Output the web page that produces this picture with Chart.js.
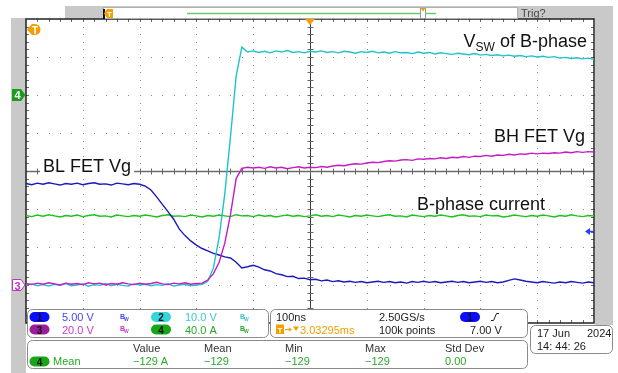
<!DOCTYPE html>
<html>
<head>
<meta charset="utf-8">
<script src="https://cdn.jsdelivr.net/npm/chart.js@4/dist/chart.umd.min.js"></script>
<style>
  html, body { margin: 0; padding: 0; background: #fff; }
  canvas { display: block; }
</style>
</head>
<body>
<canvas id="scope" width="618" height="373"></canvas>
<script>
// Time base: 100 ns/div, trigger at centre (ns)
const timeNs = [
  -500, -490, -480, -470, -460, -450, -440, -430, -420, -410,
  -400, -390, -380, -370, -360, -350, -340, -330, -320, -310,
  -300, -290, -280, -270, -260, -250, -240, -230, -220, -210,
  -200, -190, -180, -170, -160, -150, -140, -130, -120, -110,
  -100, -90, -80, -70, -60, -50, -40, -30, -20, -10,
  0, 10, 20, 30, 40, 50, 60, 70, 80, 90,
  100, 110, 120, 130, 140, 150, 160, 170, 180, 190,
  200, 210, 220, 230, 240, 250, 260, 270, 280, 290,
  300, 310, 320, 330, 340, 350, 360, 370, 380, 390,
  400, 410, 420, 430, 440, 450, 460, 470, 480, 490,
  500
];

// Trace values, in vertical divisions from centre
// Ch1 (blue) - BL FET Vg
const blFetVg = [
  -0.33, -0.36, -0.32, -0.35, -0.31, -0.34, -0.37, -0.33, -0.35, -0.32,
  -0.36, -0.33, -0.31, -0.35, -0.34, -0.37, -0.32, -0.34, -0.36, -0.33,
  -0.35, -0.40, -0.50, -0.68, -0.88, -1.07, -1.27, -1.53, -1.70, -1.84,
  -1.95, -2.04, -2.10, -2.17, -2.21, -2.26, -2.29, -2.40, -2.55, -2.52,
  -2.48, -2.53, -2.60, -2.63, -2.70, -2.73, -2.78, -2.77, -2.83, -2.82,
  -2.86, -2.85, -2.89, -2.87, -2.91, -2.89, -2.92, -2.90, -2.93, -2.91,
  -2.94, -2.92, -2.90, -2.93, -2.91, -2.94, -2.92, -2.95, -2.91, -2.93,
  -2.90, -2.93, -2.91, -2.94, -2.92, -2.90, -2.93, -2.91, -2.94, -2.92,
  -2.90, -2.93, -2.91, -2.94, -2.92, -2.88, -2.84, -2.87, -2.90, -2.92,
  -2.94, -2.91, -2.93, -2.95, -2.92, -2.94, -2.91, -2.93, -2.95, -2.92,
  -2.94
];
// Ch2 (cyan) - Vsw of B-phase
const vswB = [
  -3.00, -2.97, -3.02, -2.99, -3.03, -2.98, -3.01, -2.96, -3.02, -3.00,
  -2.97, -3.03, -2.99, -3.01, -2.96, -3.02, -2.98, -3.01, -3.03, -2.97,
  -3.00, -2.98, -3.02, -2.99, -3.01, -2.97, -3.03, -3.00, -2.98, -3.02,
  -3.00, -2.98, -2.90, -2.55, -1.75, -0.60, 0.90, 2.50, 3.26, 3.13,
  3.16, 3.12, 3.15, 3.11, 3.16, 3.13, 3.17, 3.12, 3.14, 3.11,
  3.15, 3.13, 3.16, 3.12, 3.14, 3.11, 3.15, 3.13, 3.10, 3.14,
  3.12, 3.15, 3.11, 3.13, 3.10, 3.14, 3.11, 3.12, 3.09, 3.13,
  3.10, 3.12, 3.08, 3.11, 3.09, 3.07, 3.10, 3.08, 3.06, 3.09,
  3.05, 3.07, 3.04, 3.06, 3.03, 3.05, 3.02, 3.04, 3.01, 3.03,
  3.00, 3.02, 2.99, 3.01, 2.97, 2.99, 2.96, 2.98, 2.95, 2.97,
  2.94
];
// Ch3 (magenta) - BH FET Vg
const bhFetVg = [
  -2.96, -2.99, -2.95, -2.98, -2.94, -2.97, -3.00, -2.95, -2.98, -2.96,
  -2.99, -2.94, -2.97, -2.95, -3.00, -2.96, -2.98, -2.94, -2.97, -2.99,
  -2.95, -2.98, -2.96, -2.93, -2.97, -2.99, -2.95, -2.97, -2.94, -2.98,
  -2.96, -2.95, -2.87, -2.70, -2.40, -1.90, -1.15, -0.20, 0.07, 0.10,
  0.08, 0.10, 0.07, 0.11, 0.08, 0.10, 0.06, 0.09, 0.11, 0.08,
  0.10, 0.09, 0.12, 0.10, 0.13, 0.15, 0.14, 0.17, 0.19, 0.18,
  0.21, 0.23, 0.22, 0.25, 0.27, 0.26, 0.29, 0.30, 0.28, 0.32,
  0.31, 0.33, 0.32, 0.35, 0.33, 0.36, 0.35, 0.38, 0.36, 0.39,
  0.38, 0.41, 0.39, 0.42, 0.41, 0.44, 0.42, 0.45, 0.44, 0.47,
  0.45, 0.47, 0.46, 0.48, 0.47, 0.50, 0.48, 0.51, 0.49, 0.51,
  0.50
];
// Ch4 (green) - B-phase current
const bCurrent = [
  -1.17, -1.20, -1.16, -1.19, -1.15, -1.18, -1.21, -1.17, -1.19, -1.16,
  -1.20, -1.17, -1.15, -1.19, -1.18, -1.21, -1.16, -1.18, -1.20, -1.17,
  -1.19, -1.16, -1.18, -1.21, -1.17, -1.15, -1.19, -1.18, -1.20, -1.16,
  -1.18, -1.21, -1.17, -1.19, -1.16, -1.18, -1.20, -1.15, -1.18, -1.17,
  -1.20, -1.16, -1.19, -1.17, -1.21, -1.18, -1.16, -1.19, -1.17, -1.20,
  -1.18, -1.15, -1.19, -1.17, -1.20, -1.16, -1.18, -1.21, -1.17, -1.19,
  -1.16, -1.18, -1.20, -1.17, -1.15, -1.19, -1.18, -1.21, -1.16, -1.18,
  -1.20, -1.17, -1.19, -1.16, -1.18, -1.21, -1.17, -1.15, -1.19, -1.18,
  -1.20, -1.16, -1.18, -1.17, -1.21, -1.19, -1.16, -1.18, -1.20, -1.17,
  -1.19, -1.16, -1.18, -1.21, -1.17, -1.19, -1.15, -1.18, -1.20, -1.17,
  -1.18
];

const FONT = "'Liberation Sans', Arial, sans-serif";
const ORANGE = '#f2a000';

function rrect(ctx, x, y, w, h, r) {
  ctx.beginPath();
  ctx.moveTo(x + r, y);
  ctx.arcTo(x + w, y, x + w, y + h, r);
  ctx.arcTo(x + w, y + h, x, y + h, r);
  ctx.arcTo(x, y + h, x, y, r);
  ctx.arcTo(x, y, x + w, y, r);
  ctx.closePath();
}

function seg(ctx, x1, y1, x2, y2) {
  ctx.beginPath();
  ctx.moveTo(x1, y1);
  ctx.lineTo(x2, y2);
  ctx.stroke();
}

function txt(ctx, s, x, y, color, size, weight) {
  ctx.font = `${weight || ''} ${size}px ${FONT}`;
  ctx.fillStyle = color;
  ctx.fillText(s, x, y);
}

function pill(ctx, x, y, fill, label) {
  rrect(ctx, x, y, 20, 10, 5);
  ctx.fillStyle = fill;
  ctx.fill();
  ctx.textAlign = 'center';
  txt(ctx, label, x + 10, y + 9, '#111', 10, 'bold');
  ctx.textAlign = 'left';
}

function bw(ctx, x, y, color) {
  txt(ctx, 'B', x, y, color, 7, 'bold');
  txt(ctx, 'W', x + 4, y + 2, color, 5, 'bold');
}

// Label with a white box behind it (covers the graticule)
function label(ctx, parts, x, base) {
  let w = 0;
  parts.forEach(p => { ctx.font = `${p.size}px ${FONT}`; w += ctx.measureText(p.s).width; });
  ctx.fillStyle = '#fff';
  ctx.fillRect(x - 3, base - 15, w + 6, 19);
  let cx = x;
  parts.forEach(p => {
    txt(ctx, p.s, cx, base + (p.dy || 0), '#111', p.size);
    ctx.font = `${p.size}px ${FONT}`;
    cx += ctx.measureText(p.s).width;
  });
}

const screenPlugin = {
  id: 'screen',
  beforeDatasetsDraw(chart) {
    const { ctx, chartArea: a, scales: { x, y } } = chart;
    ctx.save();
    // grey frame
    ctx.fillStyle = '#c9c9c9';
    ctx.fillRect(11, 18, 15, 355);
    ctx.fillRect(595, 18, 18, 307);
    ctx.fillRect(65, 6, 548, 13);

    // dotted graticule
    ctx.fillStyle = '#8a8a8a';
    for (let k = -4; k <= 4; k++) {
      if (k === 0) continue;
      const px = Math.round(x.getPixelForValue(k * 100));
      for (let j = 0; j <= 40; j++) {
        ctx.fillRect(px, Math.round(y.getPixelForValue(-4 + j * 0.2)), 1, 1);
      }
    }
    for (let k = -3; k <= 3; k++) {
      if (k === 0) continue;
      const py = Math.round(y.getPixelForValue(k));
      for (let j = 0; j <= 50; j++) {
        ctx.fillRect(Math.round(x.getPixelForValue(-500 + j * 20)), py, 1, 1);
      }
    }

    // centre cross with minor ticks
    const cx = Math.round(x.getPixelForValue(0)) + 0.5;
    const cy = Math.round(y.getPixelForValue(0)) + 0.5;
    ctx.strokeStyle = '#6c6c6c';
    ctx.lineWidth = 1.6;
    seg(ctx, a.left, cy, a.right, cy);
    ctx.strokeStyle = '#3a3a3a';
    ctx.lineWidth = 1;
    seg(ctx, cx, a.top, cx, a.bottom);
    ctx.strokeStyle = '#666';
    for (let j = 1; j < 50; j++) {
      const px = Math.round(x.getPixelForValue(-500 + j * 20)) + 0.5;
      seg(ctx, px, cy - 3, px, cy + 3);
      seg(ctx, px, a.top, px, a.top + 3);
      seg(ctx, px, a.bottom - 3, px, a.bottom);
    }
    for (let j = 1; j < 40; j++) {
      const py = Math.round(y.getPixelForValue(-4 + j * 0.2)) + 0.5;
      seg(ctx, cx - 3, py, cx + 3, py);
      seg(ctx, a.left, py, a.left + 3, py);
      seg(ctx, a.right - 3, py, a.right, py);
    }
    // border
    ctx.strokeStyle = '#222';
    ctx.lineWidth = 1.5;
    ctx.strokeRect(a.left, a.top, a.right - a.left, a.bottom - a.top);

    // trace annotations
    ctx.textBaseline = 'alphabetic';
    ctx.font = `18px ${FONT}`;
    const vswParts = [
      { s: 'V', size: 18 },
      { s: 'SW', size: 12, dy: 4 },
      { s: ' of B-phase', size: 18 }
    ];
    let vw = 0;
    vswParts.forEach(p => { ctx.font = `${p.size}px ${FONT}`; vw += ctx.measureText(p.s).width; });
    label(ctx, vswParts, 587 - vw, 47);
    label(ctx, [{ s: 'BH FET Vg', size: 18 }], 494, 142);
    label(ctx, [{ s: 'BL FET Vg', size: 18 }], 43, 172);
    label(ctx, [{ s: 'B-phase current', size: 18 }], 417, 210);
    ctx.restore();
  },
  afterDatasetsDraw(chart) {
    const { ctx, chartArea: a, scales: { x, y } } = chart;
    ctx.save();
    ctx.textBaseline = 'alphabetic';

    // trigger position arrow (top) and trigger level arrow (right)
    const tx = x.getPixelForValue(0);
    ctx.fillStyle = ORANGE;
    ctx.beginPath();
    ctx.moveTo(tx - 5, a.top); ctx.lineTo(tx + 5, a.top); ctx.lineTo(tx, a.top + 6);
    ctx.closePath(); ctx.fill();
    ctx.fillStyle = '#2a3cff';
    ctx.strokeStyle = '#2a3cff';
    ctx.lineWidth = 1.5;
    seg(ctx, 589, 231.5, 594, 231.5);
    ctx.beginPath();
    ctx.moveTo(585, 231.5); ctx.lineTo(590, 228); ctx.lineTo(590, 235);
    ctx.closePath(); ctx.fill();

    // time reference marker (orange T)
    ctx.fillStyle = ORANGE;
    ctx.beginPath();
    ctx.moveTo(27, 29.5); ctx.lineTo(32, 24); ctx.lineTo(36, 24);
    ctx.arc(35, 29.5, 5.5, -Math.PI / 2, Math.PI / 2);
    ctx.lineTo(32, 35); ctx.closePath(); ctx.fill();
    ctx.textAlign = 'center';
    txt(ctx, 'T', 35, 33.5, '#fff', 10, 'bold');

    // channel ground markers
    ctx.fillStyle = '#1a9e1a';
    ctx.beginPath();
    ctx.moveTo(12, 89); ctx.lineTo(21, 89); ctx.lineTo(25.5, 95); ctx.lineTo(21, 101); ctx.lineTo(12, 101);
    ctx.closePath(); ctx.fill();
    txt(ctx, '4', 17.5, 99, '#fff', 11, 'bold');
    ctx.fillStyle = '#fff';
    ctx.strokeStyle = '#c030c0';
    ctx.lineWidth = 1;
    ctx.beginPath();
    ctx.moveTo(12.5, 279.5); ctx.lineTo(21, 279.5); ctx.lineTo(25, 285); ctx.lineTo(21, 290.5); ctx.lineTo(12.5, 290.5);
    ctx.closePath(); ctx.fill(); ctx.stroke();
    txt(ctx, '3', 17.5, 289.5, '#c030c0', 11, 'bold');
    ctx.textAlign = 'left';

    // top memory bar
    ctx.fillStyle = '#fff';
    ctx.fillRect(103, 7, 415, 12);
    ctx.strokeStyle = '#b0b0b0';
    ctx.lineWidth = 1;
    ctx.strokeRect(103.5, 7.5, 414, 11);
    ctx.strokeStyle = '#6cc86c';
    ctx.lineWidth = 1.5;
    seg(ctx, 187, 13.5, 436, 13.5);
    ctx.fillStyle = '#fff';
    ctx.strokeStyle = '#999';
    ctx.lineWidth = 1;
    ctx.fillRect(420, 8, 6, 11);
    ctx.strokeRect(420.5, 8.5, 5, 10);
    ctx.fillStyle = ORANGE;
    ctx.beginPath();
    ctx.moveTo(420.5, 8); ctx.lineTo(425.5, 8); ctx.lineTo(423, 11.5); ctx.closePath(); ctx.fill();
    ctx.fillStyle = '#111';
    ctx.fillRect(103, 9, 2, 10);
    ctx.fillStyle = ORANGE;
    ctx.beginPath();
    ctx.moveTo(104, 13.5); ctx.lineTo(107, 9); ctx.lineTo(113, 9); ctx.lineTo(113, 18); ctx.lineTo(107, 18);
    ctx.closePath(); ctx.fill();
    ctx.textAlign = 'center';
    txt(ctx, 'T', 109.5, 17, '#fff', 8, 'bold');
    ctx.textAlign = 'left';
    txt(ctx, 'Trig?', 521, 17, '#4a4a4a', 11);

    // ---- bottom info panels ----
    ctx.lineWidth = 1;
    ctx.strokeStyle = '#8a8a8a';
    ctx.fillStyle = '#fff';
    rrect(ctx, 27.5, 309.5, 241, 28, 5); ctx.fill(); ctx.stroke();
    ctx.fillStyle = '#fff';
    rrect(ctx, 270.5, 309.5, 257, 28, 5); ctx.fill(); ctx.stroke();
    ctx.fillStyle = '#fff';
    rrect(ctx, 530.5, 325.5, 82, 28, 5); ctx.fill(); ctx.stroke();
    ctx.fillStyle = '#fff';
    rrect(ctx, 27.5, 340.5, 500, 28, 5); ctx.fill(); ctx.stroke();

    // channel scales
    pill(ctx, 29.5, 312, '#0c0cff', '1');
    txt(ctx, '5.00 V', 62, 321, '#4646ff', 11);
    bw(ctx, 120, 319, '#4646ff');
    pill(ctx, 151, 312, '#34d6dc', '2');
    txt(ctx, '10.0 V', 185, 321, '#3cc6d2', 11);
    bw(ctx, 240, 319, '#3cc6d2');
    pill(ctx, 29.5, 324.5, '#9c1c9c', '3');
    txt(ctx, '20.0 V', 62, 334, '#c43cc4', 11);
    bw(ctx, 120, 331, '#c43cc4');
    pill(ctx, 151, 324.5, '#16a616', '4');
    txt(ctx, '40.0 A', 185, 334, '#2aa82a', 11);
    bw(ctx, 240, 331, '#2aa82a');

    // timebase / trigger
    txt(ctx, '100ns', 276, 321, '#222', 11);
    txt(ctx, '2.50GS/s', 379, 321, '#222', 11);
    pill(ctx, 460, 312, '#0c0cff', '1');
    ctx.strokeStyle = '#222';
    ctx.lineWidth = 1;
    ctx.beginPath();
    ctx.moveTo(491, 320.5); ctx.lineTo(493.5, 320.5); ctx.lineTo(496.5, 313.5); ctx.lineTo(499, 313.5);
    ctx.stroke();
    ctx.fillStyle = ORANGE;
    ctx.fillRect(276, 324.5, 8, 9.5);
    ctx.textAlign = 'center';
    txt(ctx, 'T', 280, 332.5, '#fff', 8, 'bold');
    ctx.textAlign = 'left';
    ctx.strokeStyle = ORANGE;
    ctx.lineWidth = 1.2;
    seg(ctx, 285, 329.5, 291, 329.5);
    ctx.fillStyle = ORANGE;
    ctx.beginPath(); ctx.moveTo(292, 329.5); ctx.lineTo(289, 327.5); ctx.lineTo(289, 331.5); ctx.closePath(); ctx.fill();
    ctx.beginPath(); ctx.moveTo(293, 326.5); ctx.lineTo(299, 326.5); ctx.lineTo(296, 331); ctx.closePath(); ctx.fill();
    txt(ctx, '3.03295ms', 300, 334, ORANGE, 11);
    txt(ctx, '100k points', 379, 334, '#222', 11);
    txt(ctx, '7.00 V', 470, 334, '#222', 11);

    // date / time
    txt(ctx, '17 Jun', 537, 337, '#222', 11);
    txt(ctx, '2024', 587, 337, '#222', 11);
    txt(ctx, '14: 44: 26', 537, 350, '#222', 11);

    // measurements
    const mCols = [133, 204, 285, 365, 445];
    ['Value', 'Mean', 'Min', 'Max', 'Std Dev'].forEach((h, i) => txt(ctx, h, mCols[i], 352, '#333', 11));
    pill(ctx, 29.5, 356.5, '#16a616', '4');
    txt(ctx, 'Mean', 53, 365, '#2aa82a', 11);
    ['\u2212129 A', '\u2212129', '\u2212129', '\u2212129', '0.00'].forEach((v, i) => txt(ctx, v, mCols[i], 365, '#2aa82a', 11));
    ctx.restore();
  }
};

const pts = arr => arr.map((v, i) => ({ x: timeNs[i], y: v }));

new Chart(document.getElementById('scope'), {
  type: 'line',
  data: {
    datasets: [
      { label: 'BH FET Vg', data: pts(bhFetVg), borderColor: '#c41cc4' },
      { label: 'Vsw of B-phase', data: pts(vswB), borderColor: '#1fc3c9' },
      { label: 'BL FET Vg', data: pts(blFetVg), borderColor: '#1a1abc' },
      { label: 'B-phase current', data: pts(bCurrent), borderColor: '#1ec21e' }
    ]
  },
  options: {
    responsive: false,
    animation: false,
    devicePixelRatio: 1,
    layout: { padding: { left: 26, top: 19, right: 24, bottom: 50 } },
    elements: {
      point: { radius: 0 },
      line: { borderWidth: 1.4, tension: 0, fill: false }
    },
    scales: {
      x: { type: 'linear', min: -500, max: 500, display: false },
      y: { type: 'linear', min: -4, max: 4, display: false }
    },
    plugins: {
      legend: { display: false },
      tooltip: { enabled: false }
    }
  },
  plugins: [screenPlugin]
});
</script>
</body>
</html>
